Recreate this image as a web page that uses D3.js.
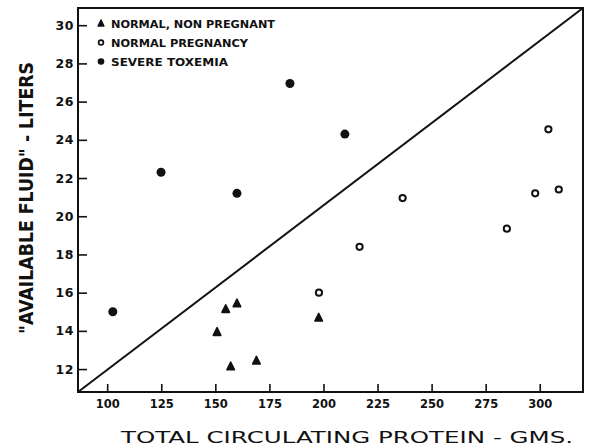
<!DOCTYPE html>
<html><head><meta charset="utf-8">
<script src="https://cdn.jsdelivr.net/npm/d3@7"></script>
<style>
html,body{margin:0;padding:0;background:#fff;}
text{fill:#111;}
</style></head>
<body>
<svg id="chart" width="591" height="446"></svg>
<script>
// Data (x = total circulating protein, gms; y = available fluid, liters)
const xTicks = [100,125,150,175,200,225,250,275,300];
const yTicks = [12,14,16,18,20,22,24,26,28,30];
const seriesNames = ["NORMAL, NON PREGNANT","NORMAL PREGNANCY","SEVERE TOXEMIA"];
const nonPregnantX = [154.8,160.0,150.8,157.1,169.0,197.8];
const nonPregnantY = [15.1,15.4,13.9,12.1,12.4,14.65];
const pregnancyX = [197.9,216.7,236.6,284.8,297.9,308.8,304.0];
const pregnancyY = [16.0,18.4,20.95,19.35,21.2,21.4,24.55];
const toxemiaX = [102.6,124.9,160.0,184.5,209.9];
const toxemiaY = [15.0,22.3,21.2,26.95,24.3];
const xDomain = [86.5,320];
const yDomain = [10.8,30.9];

const svg = d3.select("#chart");
const L=78,R=583,T=8,B=392;
const x = d3.scaleLinear().domain(xDomain).range([L,R]);
const y = d3.scaleLinear().domain(yDomain).range([B,T]);
const ink = "#111";

// frame
svg.append("rect").attr("x",L).attr("y",T).attr("width",R-L).attr("height",B-T)
  .attr("fill","none").attr("stroke",ink).attr("stroke-width",2);

// diagonal (corner to corner)
svg.append("line").attr("x1",x(xDomain[0])).attr("y1",y(yDomain[0]))
  .attr("x2",x(xDomain[1])).attr("y2",y(yDomain[1]))
  .attr("stroke",ink).attr("stroke-width",2);

// axes
const gx = svg.append("g").attr("transform",`translate(0,${B})`)
  .call(d3.axisBottom(x).tickValues(xTicks).tickSizeInner(-8).tickSizeOuter(0).tickPadding(8));
const gy = svg.append("g").attr("transform",`translate(${L},0)`)
  .call(d3.axisLeft(y).tickValues(yTicks).tickSizeInner(-9).tickSizeOuter(0).tickPadding(4));
[gx,gy].forEach(g=>{
  g.select(".domain").remove();
  g.selectAll(".tick line").attr("stroke",ink).attr("stroke-width",1.6);
  g.selectAll(".tick text").attr("fill",ink)
    .style("font-family","'DejaVu Sans', sans-serif").style("font-weight","bold");
});
gx.selectAll(".tick text").style("font-size","11.5px");
gy.selectAll(".tick text").style("font-size","12.5px").attr("letter-spacing","0.5px");

// axis titles
svg.append("text").attr("x",121).attr("y",443)
  .attr("textLength",452).attr("lengthAdjust","spacingAndGlyphs")
  .style("font-family","'DejaVu Sans', sans-serif").style("font-size","15.5px")
  .text("TOTAL CIRCULATING PROTEIN - GMS.");
svg.append("text").attr("transform","translate(33,334) rotate(-90)")
  .attr("textLength",272).attr("lengthAdjust","spacingAndGlyphs")
  .style("font-family","'DejaVu Sans', sans-serif").style("font-size","19px")
  .style("font-weight","bold")
  .text("\"AVAILABLE FLUID\" - LITERS");

// markers
const tri = d3.symbol().type(d3.symbolTriangle);
const g = svg.append("g");
g.selectAll("path.np").data(nonPregnantX.map((v,i)=>[v,nonPregnantY[i]])).join("path")
  .attr("class","np").attr("d",tri.size(24)())
  .attr("transform",d=>`translate(${x(d[0])},${y(d[1])}) scale(1,1.15)`)
  .attr("fill",ink).attr("stroke",ink).attr("stroke-width",1.6).attr("stroke-linejoin","round");
g.selectAll("circle.pg").data(pregnancyX.map((v,i)=>[v,pregnancyY[i]])).join("circle")
  .attr("class","pg").attr("cx",d=>x(d[0])).attr("cy",d=>y(d[1])).attr("r",3.1)
  .attr("fill","#fff").attr("stroke",ink).attr("stroke-width",2);
g.selectAll("circle.tx").data(toxemiaX.map((v,i)=>[v,toxemiaY[i]])).join("circle")
  .attr("class","tx").attr("cx",d=>x(d[0])).attr("cy",d=>y(d[1])).attr("r",4.5)
  .attr("fill",ink);

// legend
const leg = svg.append("g");
const rows = [24,42.5,61.5];
leg.append("path").attr("d",tri.size(16)()).attr("transform",`translate(101,${rows[0]}) scale(1,1.15)`)
  .attr("fill",ink).attr("stroke",ink).attr("stroke-width",1.2).attr("stroke-linejoin","round");
leg.append("circle").attr("cx",101).attr("cy",rows[1]).attr("r",2.4)
  .attr("fill","#fff").attr("stroke",ink).attr("stroke-width",1.7);
leg.append("circle").attr("cx",101).attr("cy",rows[2]).attr("r",3.3).attr("fill",ink);
const legW = [164,137,117];
leg.selectAll("text").data(seriesNames).join("text")
  .attr("x",111).attr("y",(d,i)=>rows[i]+4)
  .attr("textLength",(d,i)=>legW[i]).attr("lengthAdjust","spacingAndGlyphs")
  .style("font-family","'DejaVu Sans', sans-serif").style("font-size","11px").style("font-weight","bold")
  .text(d=>d);
</script>
</body></html>
